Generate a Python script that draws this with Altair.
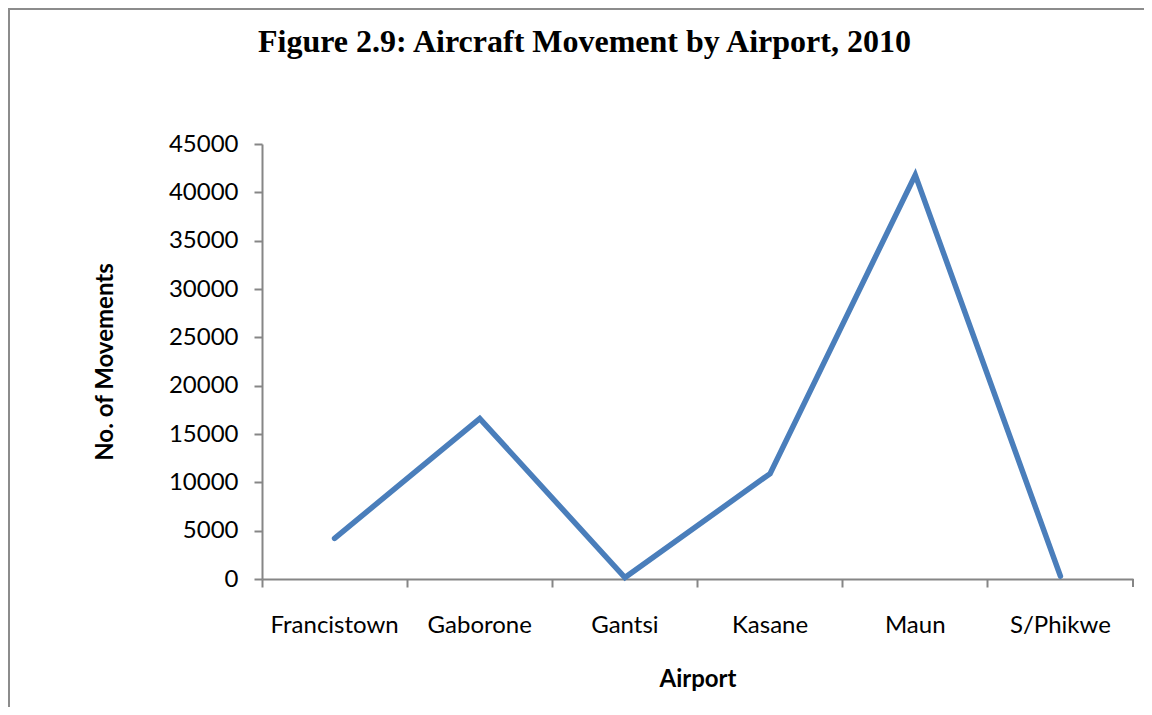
import altair as alt
import pandas as pd

airports = ["Francistown", "Gaborone", "Gantsi", "Kasane", "Maun", "S/Phikwe"]
movements = [4200, 16600, 150, 10900, 41800, 300]

df = pd.DataFrame({"Airport": airports, "Movements": movements})

AXIS_COLOR = "#868686"
LINE_COLOR = "#4a7ebb"
FONT = "Lato"

x_enc = alt.X(
    "Airport:N",
    sort=airports,
    scale=alt.Scale(type="band", paddingInner=0, paddingOuter=0),
    axis=alt.Axis(
        title="Airport",
        bandPosition=0,
        labelAngle=0,
        labelFont=FONT,
        labelFontSize=24,
        labelColor="#000000",
        labelPadding=26,
        tickSize=8,
        tickWidth=2,
        tickColor=AXIS_COLOR,
        domainColor=AXIS_COLOR,
        domainWidth=2,
        titleFont=FONT,
        titleFontSize=24,
        titleFontWeight="bold",
        titleColor="#000000",
        titleY=100,
        titleBaseline="middle",
        grid=False,
    ),
)

y_enc = alt.Y(
    "Movements:Q",
    scale=alt.Scale(domain=[0, 45000], nice=False, zero=True),
    axis=alt.Axis(
        title="No. of Movements",
        values=list(range(0, 45001, 5000)),
        format="d",
        labelFont=FONT,
        labelFontSize=24,
        labelColor="#000000",
        labelPadding=16,
        tickSize=8,
        tickWidth=2,
        tickColor=AXIS_COLOR,
        domainColor=AXIS_COLOR,
        domainWidth=2,
        titleFont=FONT,
        titleFontSize=24,
        titleFontWeight="bold",
        titleColor="#000000",
        titleX=-157,
        titleBaseline="middle",
        grid=False,
    ),
)

line = alt.Chart(df).mark_line(
    color=LINE_COLOR, strokeWidth=5.5, strokeCap="round", strokeJoin="miter"
).encode(x=x_enc, y=y_enc)

# closing tick at the right end of the category axis
end_tick = alt.Chart(df).mark_rule(color=AXIS_COLOR, strokeWidth=2).encode(
    x=alt.value(871), x2=alt.value(871), y=alt.value(435), y2=alt.value(443)
)

# chart-area border (top and left edges visible)
border_top = alt.Chart(df).mark_rule(color="#8c8c8c", strokeWidth=2).encode(
    x=alt.value(-254), x2=alt.value(900), y=alt.value(-135), y2=alt.value(-135)
)
border_left = alt.Chart(df).mark_rule(color="#8c8c8c", strokeWidth=2).encode(
    x=alt.value(-253), x2=alt.value(-253), y=alt.value(-136), y2=alt.value(580)
)

chart = alt.layer(border_top, border_left, end_tick, line).properties(
    width=871,
    height=435,
    background="white",
    view=alt.ViewBackground(stroke="transparent", strokeWidth=0),
    autosize=alt.AutoSizeParams(type="none"),
    padding={"left": 254, "top": 136, "right": 11, "bottom": 128},
    title=alt.TitleParams(
        "Figure 2.9: Aircraft Movement by Airport, 2010",
        font="Liberation Serif",
        fontSize=32,
        fontWeight="bold",
        color="#000000",
        anchor="start",
        frame="group",
        dx=-4,
        offset=-77,
        baseline="alphabetic",
    ),
).configure_view(strokeWidth=0, stroke="transparent")

chart.save("out.html", embed_options={"renderer": "svg", "actions": False})
